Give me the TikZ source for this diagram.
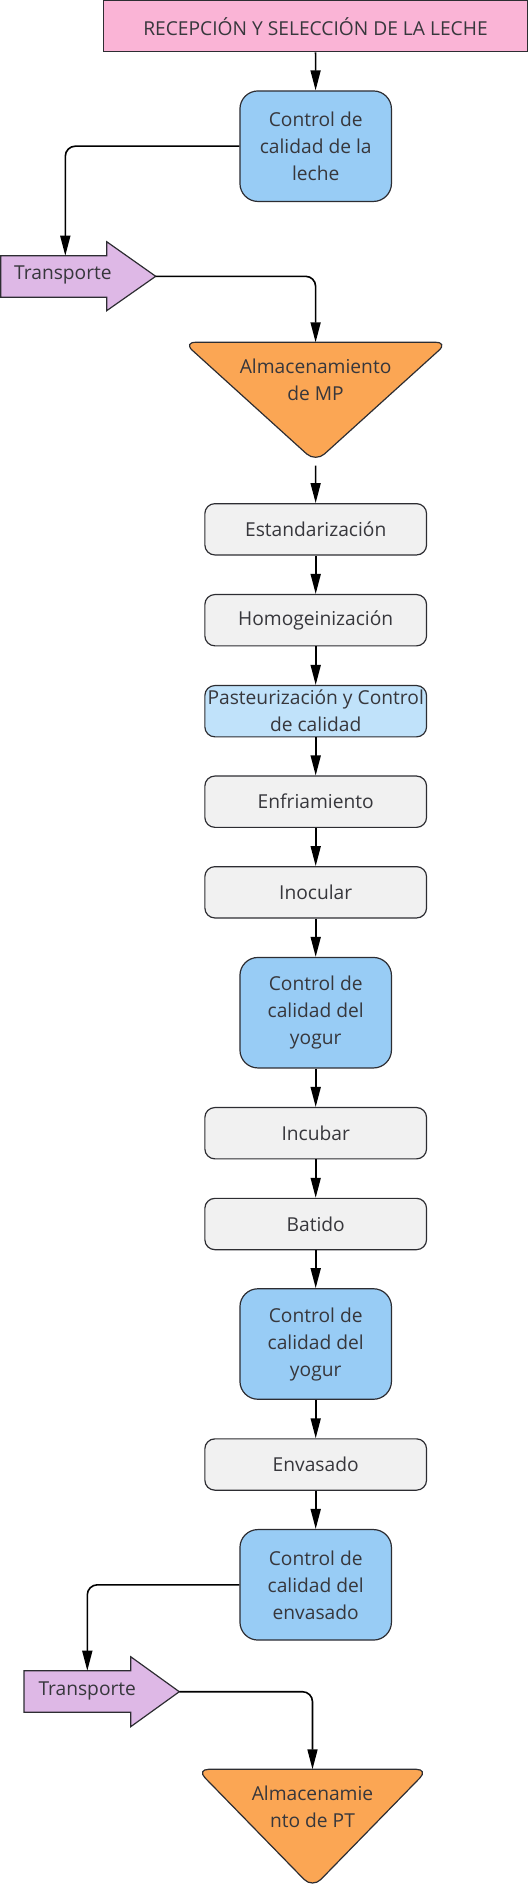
\documentclass[tikz,border=0pt]{standalone}
\usepackage{fontspec}
\setmainfont{Open Sans}
\usetikzlibrary{arrows.meta,positioning}

\definecolor{texto}{RGB}{55,55,60}
\definecolor{borde}{RGB}{45,45,50}
\definecolor{rosa}{RGB}{250,180,214}
\definecolor{azulctl}{RGB}{152,204,245}
\definecolor{azulpas}{RGB}{192,226,250}
\definecolor{gris}{RGB}{241,241,241}
\definecolor{naranja}{RGB}{251,166,84}
\definecolor{lila}{RGB}{222,184,230}

\begin{document}
\begin{tikzpicture}[
		x=1pt,y=-1pt,
		>={Triangle[length=20pt,width=10pt]},
		every node/.style={font=\fontsize{19.2}{27}\selectfont, text=texto},
		caja/.style={draw=borde, line width=1.2pt, rounded corners=10pt, fill=gris,
			minimum width=221.7pt, minimum height=51.3pt, inner sep=0pt, align=center},
		control/.style={caja, fill=azulctl, minimum width=151.5pt, minimum height=110.5pt, rounded corners=18pt},
		almacen/.style={draw=borde, line width=1.2pt, fill=naranja, rounded corners=12pt},
		transp/.style={draw=borde, line width=1.2pt, fill=lila},
		flujo/.style={->, line width=1.6pt, black},
		]
		
		\useasboundingbox (0,0) rectangle (528,1892);
		
		% =========================
		% Recepcion y primer control
		% =========================
		\node[caja, fill=rosa, rounded corners=0pt, minimum width=423.6pt, minimum height=51pt] (rec) at (315.5,26.2)
		{RECEPCIÓN Y SELECCIÓN DE LA LECHE};
		\node[control] (ctl1) at (315.7,146.2) {Control de\\calidad de la\\leche};
		
		% transporte 1
		\filldraw[transp] (0.7,255.7) -- (106.7,255.7) -- (106.7,241.7) -- (155.7,276.3)
		-- (106.7,310.7) -- (106.7,297.3) -- (0.7,297.3) -- cycle;
		\node[anchor=west, inner sep=0pt] (tr1) at (14,275) {Transporte};
		\coordinate (tr1top) at (65.3,255.7);
		\coordinate (tr1tip) at (155.7,276.3);
		
		% almacenamiento de MP
		\filldraw[almacen] (183.5,342.3) -- (447.8,342.3) -- (315.6,462) -- cycle;
		\node[align=center] (alm1) at (315.6,380) {Almacenamiento\\de MP};
		\coordinate (alm1top) at (315.6,342.3);
		\coordinate (alm1tip) at (315.6,465.5);
		
		% =========================
		% Proceso
		% =========================
		\node[caja] (est) at (315.7,529.3) {Estandarización};
		\node[caja] (hom) at (315.7,620.2) {Homogeinización};
		\node[caja, fill=azulpas] (pas) at (315.7,711.2) {Pasteurización y Control\\de calidad};
		\node[caja] (enf) at (315.7,801.7) {Enfriamiento};
		\node[caja] (ino) at (315.7,892.3) {Inocular};
		\node[control] (ctl2) at (315.7,1012.7) {Control de\\calidad del\\yogur};
		\node[caja] (inc) at (315.7,1133.2) {Incubar};
		\node[caja] (bat) at (315.7,1224) {Batido};
		\node[control] (ctl3) at (315.7,1344) {Control de\\calidad del\\yogur};
		\node[caja] (env) at (315.7,1464.5) {Envasado};
		\node[control] (ctl4) at (315.7,1584.8) {Control de\\calidad del\\envasado};
		
		% transporte 2
		\filldraw[transp] (24,1670.7) -- (130.7,1670.7) -- (130.7,1656.7) -- (179.3,1691.7)
		-- (130.7,1726.7) -- (130.7,1712.3) -- (24,1712.3) -- cycle;
		\node[anchor=west, inner sep=0pt] (tr2) at (38.3,1690.5) {Transporte};
		\coordinate (tr2top) at (87.3,1670.7);
		\coordinate (tr2tip) at (179.3,1691.7);
		
		% almacenamiento de PT
		\filldraw[almacen] (196.7,1769.3) -- (428.3,1769.3) -- (312.5,1888) -- cycle;
		\node[align=center] (alm2) at (312.5,1807) {Almacenamie\\nto de PT};
		\coordinate (alm2top) at (312.5,1769.3);
		
		% =========================
		% Flechas
		% =========================
		\draw[flujo] (rec) -- (ctl1);
		\draw[flujo, rounded corners=10pt] (ctl1.west) -| (tr1top);
		\draw[flujo, rounded corners=10pt] (tr1tip) -| (alm1top);
		\draw[flujo] (alm1tip) -- (est);
		\draw[flujo] (est) -- (hom);
		\draw[flujo] (hom) -- (pas);
		\draw[flujo] (pas) -- (enf);
		\draw[flujo] (enf) -- (ino);
		\draw[flujo] (ino) -- (ctl2);
		\draw[flujo] (ctl2) -- (inc);
		\draw[flujo] (inc) -- (bat);
		\draw[flujo] (bat) -- (ctl3);
		\draw[flujo] (ctl3) -- (env);
		\draw[flujo] (env) -- (ctl4);
		\draw[flujo, rounded corners=10pt] (ctl4.west) -| (tr2top);
		\draw[flujo, rounded corners=10pt] (tr2tip) -| (alm2top);
		
	\end{tikzpicture}
\end{document}
